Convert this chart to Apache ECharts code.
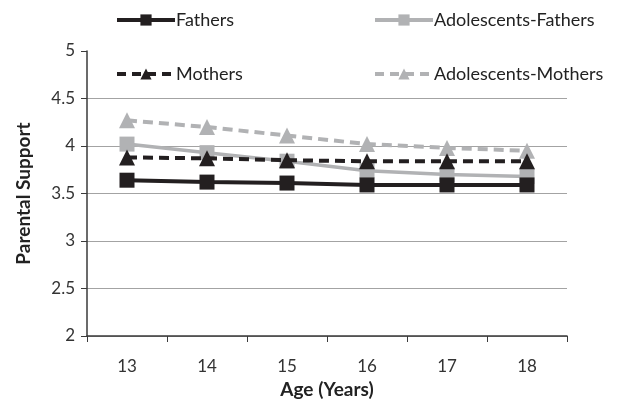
<!DOCTYPE html>
<html><head><meta charset="utf-8">
<script src="https://cdn.jsdelivr.net/npm/echarts@6/dist/echarts.min.js"></script>
<style>html,body{margin:0;padding:0;background:#fff}#c{width:620px;height:399px}</style>
</head><body><div id="c"></div>
<script>
var ages = ['13','14','15','16','17','18'];
var fathers = [3.64, 3.62, 3.61, 3.59, 3.59, 3.59];
var adolescentsFathers = [4.02, 3.93, 3.84, 3.74, 3.70, 3.68];
var mothers = [3.88, 3.87, 3.85, 3.84, 3.84, 3.84];
var adolescentsMothers = [4.27, 4.20, 4.11, 4.02, 3.98, 3.95];
var yTicks = [2, 2.5, 3, 3.5, 4, 4.5, 5];

var BLACK = '#231f20', GRAY = '#b1b2b4';
var FONT = 'Lato';
var chart = echarts.init(document.getElementById('c'), null, {renderer:'canvas'});
function legendCfg(left, top, name, dashed){
  return {
    top: top, left: left, data: [name], itemWidth: 58, itemHeight: 14, itemGap: 0,
    padding: 0,
    lineStyle: {width: 4, type: dashed ? [9, 6] : 'solid'},
    textStyle: {fontFamily: FONT, fontSize: 18, color: '#222', padding: [0,0,0,-4]}
  };
}
chart.setOption({
  animation: false,
  grid: {left: 87, right: 53, top: 51, bottom: 63, containLabel: false, outerBoundsMode: 'none'},
  legend: [
    legendCfg(115, 11, 'Fathers', false),
    legendCfg(373, 11, 'Adolescents-Fathers', false),
    legendCfg(115, 65, 'Mothers', true),
    legendCfg(373, 65, 'Adolescents-Mothers', true)
  ],
  xAxis: {
    type: 'category', data: ages, boundaryGap: true,
    name: 'Age (Years)', nameLocation: 'middle', nameGap: 40,
    nameTextStyle: {fontFamily: FONT, fontSize: 19, fontWeight: 'bold', color: '#222'},
    axisLine: {lineStyle: {color: '#3a3a3a', width: 1.5}},
    axisTick: {show: true, alignWithLabel: false, length: 6, lineStyle: {color: '#3a3a3a'}},
    axisLabel: {fontFamily: FONT, fontSize: 17, color: '#333', margin: 22}
  },
  yAxis: {
    type: 'value', min: yTicks[0], max: yTicks[yTicks.length-1], interval: 0.5,
    name: 'Parental Support', nameLocation: 'middle', nameGap: 54,
    nameTextStyle: {fontFamily: FONT, fontSize: 19, fontWeight: 'bold', color: '#222'},
    axisLine: {show: true, lineStyle: {color: '#3a3a3a', width: 1.5}},
    axisTick: {show: true, length: 6, lineStyle: {color: '#3a3a3a'}},
    axisLabel: {fontFamily: FONT, fontSize: 17, color: '#333', margin: 12},
    splitLine: {show: true, lineStyle: {color: ['#a3a3a3','#a3a3a3','#a3a3a3','#a3a3a3','#a3a3a3','#a3a3a3','rgba(0,0,0,0)'], width: 1}}
  },
  series: [
    {name: 'Fathers', type: 'line', data: fathers, symbol: 'rect', symbolSize: 15,
     itemStyle: {color: BLACK}, lineStyle: {color: BLACK, width: 4}, z: 4},
    {name: 'Adolescents-Fathers', type: 'line', data: adolescentsFathers, symbol: 'rect', symbolSize: 15,
     itemStyle: {color: GRAY}, lineStyle: {color: GRAY, width: 3.5}, z: 2},
    {name: 'Mothers', type: 'line', data: mothers, symbol: 'triangle', symbolSize: 16,
     itemStyle: {color: BLACK}, lineStyle: {color: BLACK, width: 4, type: [10, 6]}, z: 3},
    {name: 'Adolescents-Mothers', type: 'line', data: adolescentsMothers, symbol: 'triangle', symbolSize: 16,
     itemStyle: {color: GRAY}, lineStyle: {color: GRAY, width: 4, type: [10, 6]}, z: 1}
  ]
});
</script></body></html>
